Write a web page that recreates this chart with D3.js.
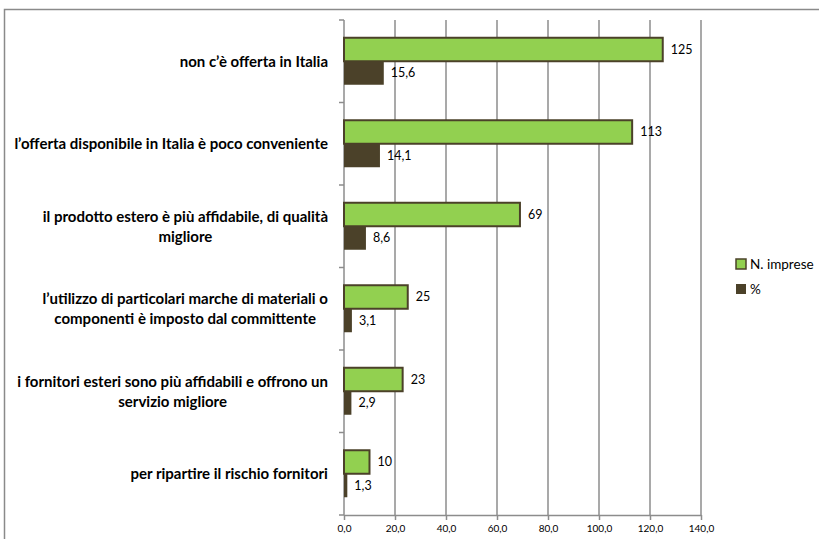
<!DOCTYPE html>
<html>
<head>
<meta charset="utf-8">
<script src="https://cdn.jsdelivr.net/npm/d3@7"></script>
<style>
  body { margin: 0; background: #fff; }
  svg { display: block; font-family: Lato, "Open Sans", sans-serif; }
</style>
</head>
<body>
<svg id="chart" width="819" height="539"></svg>
<script>
// categories, each label split into its lines
let categories = [
  ['non c\u2019\u00e8 offerta in Italia'],
  ['l\u2019offerta disponibile in Italia \u00e8 poco conveniente'],
  ['il prodotto estero \u00e8 pi\u00f9 affidabile, di qualit\u00e0', 'migliore'],
  ['l\u2019utilizzo di particolari marche di materiali o', 'componenti \u00e8 imposto dal committente'],
  ['i fornitori esteri sono pi\u00f9 affidabili e offrono un', 'servizio migliore'],
  ['per ripartire il rischio fornitori']
]
let imprese = [125, 113, 69, 25, 23, 10]
let percent = [15.6, 14.1, 8.6, 3.1, 2.9, 1.3]
let xTicks = [0, 20, 40, 60, 80, 100, 120, 140]
let seriesNames = ['N. imprese', '%']

let green = '#92D050', dark = '#4B4129', grid = '#8c8c8c'

let svg = d3.select('#chart')

// outer chart frame
svg.append('rect')
  .attr('x', 4.5).attr('y', 9.5)
  .attr('width', 830).attr('height', 560)
  .attr('fill', 'none').attr('stroke', '#8a8a8a').attr('stroke-width', 1.5)

let plotL = 344, plotR = 701, plotT = 20, plotB = 515

let x = d3.scaleLinear().domain([0, 140]).range([plotL, plotR])
let y = d3.scaleBand().domain(d3.range(categories.length)).range([plotT, plotB])

// vertical gridlines
svg.append('g').selectAll('line')
  .data(xTicks.slice(1))
  .join('line')
  .attr('x1', d => x(d)).attr('x2', d => x(d))
  .attr('y1', plotT).attr('y2', plotB)
  .attr('stroke', grid).attr('stroke-width', 1.5)

// bottom axis
let xAxis = svg.append('g')
  .attr('transform', `translate(0,${plotB})`)
  .call(d3.axisBottom(x).tickValues(xTicks).tickSize(5).tickSizeOuter(0)
    .tickFormat(d => d3.format('.1f')(d).replace('.', ',')))
xAxis.select('.domain').attr('stroke', grid).attr('stroke-width', 1.5)
xAxis.selectAll('.tick line').attr('stroke', grid).attr('stroke-width', 1.5)
xAxis.selectAll('.tick text')
  .attr('font-family', 'Lato, sans-serif').attr('font-size', 10).attr('fill', '#000').attr('dy', '0.9em')

// left axis with category boundary ticks
svg.append('line')
  .attr('x1', plotL).attr('x2', plotL).attr('y1', plotT).attr('y2', plotB)
  .attr('stroke', grid).attr('stroke-width', 1.5)
svg.append('g').selectAll('line')
  .data(d3.range(categories.length + 1))
  .join('line')
  .attr('x1', plotL - 5).attr('x2', plotL)
  .attr('y1', i => i < categories.length ? y(i) : plotB)
  .attr('y2', i => i < categories.length ? y(i) : plotB)
  .attr('stroke', grid).attr('stroke-width', 1.5)

let barH = 23.5

let rows = svg.append('g').selectAll('g')
  .data(categories)
  .join('g')
  .attr('transform', (d, i) => `translate(0,${y(i) + y.bandwidth() / 2})`)

// green bars (N. imprese)
rows.append('rect')
  .attr('x', plotL)
  .attr('y', -barH)
  .attr('width', (d, i) => x(imprese[i]) - plotL)
  .attr('height', barH)
  .attr('fill', green).attr('stroke', dark).attr('stroke-width', 2)

// dark bars (%)
rows.append('rect')
  .attr('x', plotL)
  .attr('y', 0)
  .attr('width', (d, i) => x(percent[i]) - plotL)
  .attr('height', barH)
  .attr('fill', dark)

rows.append('text')
  .attr('x', (d, i) => x(imprese[i]) + 8)
  .attr('y', -barH / 2)
  .attr('dy', '0.35em')
  .attr('font-size', 12.5)
  .text((d, i) => imprese[i])

rows.append('text')
  .attr('x', (d, i) => x(percent[i]) + 7)
  .attr('y', barH / 2)
  .attr('dy', '0.35em')
  .attr('font-size', 12.5)
  .text((d, i) => d3.format('.1f')(percent[i]).replace('.', ','))

// category labels
rows.append('text')
  .attr('text-anchor', 'middle')
  .attr('font-weight', 'bold')
  .attr('font-size', 15)
  .each(function(d) {
    let t = d3.select(this)
    let lh = 20
    d.forEach((line, j) => {
      t.append('tspan')
        .attr('x', 0)
        .attr('y', (j - (d.length - 1) / 2) * lh)
        .attr('dy', '0.35em')
        .text(line)
    })
  })
  .attr('transform', function() {
    let w = this.getBBox().width
    return `translate(${328 - w / 2},0)`
  })

// legend
let legend = svg.append('g').attr('transform', 'translate(736,264)')
legend.selectAll('g')
  .data(seriesNames)
  .join('g')
  .attr('transform', (d, i) => `translate(0,${i * 25})`)
  .each(function(d, i) {
    let g = d3.select(this)
    g.append('rect')
      .attr('x', 0).attr('y', -5).attr('width', 10).attr('height', 10)
      .attr('fill', i === 0 ? green : dark)
      .attr('stroke', dark).attr('stroke-width', i === 0 ? 1.5 : 0)
    g.append('text')
      .attr('x', 14).attr('y', 0).attr('dy', '0.35em')
      .attr('font-size', 13.5)
      .text(d)
  })
</script>
</body>
</html>
